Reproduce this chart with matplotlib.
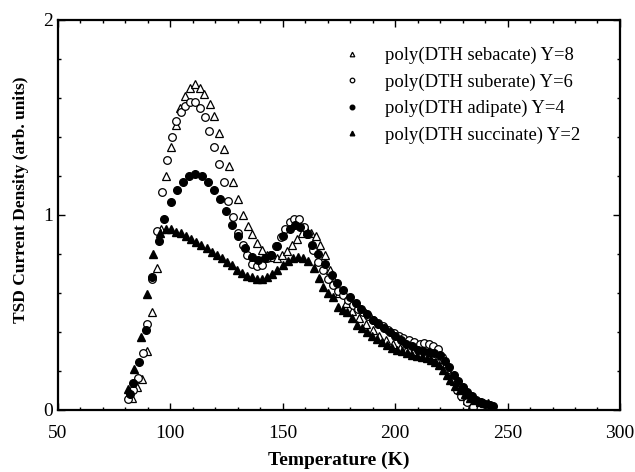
import matplotlib
matplotlib.use("Agg")
import matplotlib.pyplot as plt
from matplotlib.ticker import MultipleLocator

# poly(DTH sebacate) Y=8 -- open triangles
T_seb = [83, 85, 87.2, 89.5, 91.7, 93.9, 95.8, 98.0, 100.3, 102.4, 104.3, 106.5, 108.7,
         110.9, 113.2, 115.1, 117.5, 119.5, 121.6, 123.7, 125.9, 128.0, 130.2, 132.3,
         134.4, 136.4, 138.7, 140.7, 142.8, 145.1, 147.3, 149.5, 151.7, 154.0, 156.2,
         158.4, 160.6, 162.4, 164.6, 166.5, 168.8, 171, 173, 175, 178, 181, 184, 187,
         190, 193, 196, 199, 202, 205, 208, 211, 214, 217, 220, 222, 224, 226, 228,
         230, 232, 234]
y_seb = [0.06, 0.12, 0.16, 0.30, 0.50, 0.73, 0.93, 1.20, 1.35, 1.46, 1.55, 1.61, 1.65,
         1.67, 1.65, 1.62, 1.57, 1.51, 1.42, 1.34, 1.25, 1.17, 1.08, 1.00,
         0.945, 0.90, 0.855, 0.82, 0.795, 0.786, 0.78, 0.795, 0.817, 0.846, 0.875,
         0.905, 0.92, 0.91, 0.89, 0.846, 0.795, 0.72, 0.66, 0.60, 0.55, 0.51, 0.47, 0.44,
         0.41, 0.38, 0.36, 0.34, 0.32, 0.31, 0.30, 0.29, 0.285, 0.28, 0.26, 0.23, 0.19,
         0.15, 0.11, 0.07, 0.05, 0.03]

# poly(DTH suberate) Y=6 -- open circles
T_sub = [81.3, 83.5, 85.7, 87.7, 89.7, 92.0, 93.9, 96.1, 98.4, 100.6, 102.5, 104.6, 106.6,
         108.9, 111.1, 113.2, 115.3, 117.3, 119.4, 121.6, 123.7, 125.8, 127.8, 129.9,
         132.2, 134.2, 136.3, 138.4, 140.6, 142.8, 144.8, 147.0, 149.1, 151.1, 153.2,
         155.1, 157.3, 159.4, 161.3, 163.6, 165.8, 168.0, 170.2, 172.2, 174.5, 176.9,
         179.2, 181.4, 183.6, 185.8, 188, 190.3, 192.5, 194.7, 197, 199.3, 201.5, 203.7,
         206, 208.5, 211, 213, 215, 217, 219.2, 221, 222.9, 225.1, 227.3, 229.5, 231.8,
         234.7]
y_sub = [0.055, 0.10, 0.166, 0.29, 0.44, 0.67, 0.92, 1.12, 1.28, 1.40, 1.48, 1.53, 1.56,
         1.58, 1.58, 1.55, 1.50, 1.43, 1.35, 1.26, 1.17, 1.07, 0.99, 0.91,
         0.846, 0.795, 0.75, 0.74, 0.743, 0.78, 0.795, 0.84, 0.885, 0.93, 0.966,
         0.98, 0.977, 0.94, 0.90, 0.82, 0.76, 0.72, 0.67, 0.64, 0.61, 0.59,
         0.565, 0.54, 0.52, 0.50, 0.48, 0.46, 0.445, 0.43, 0.41, 0.395, 0.38, 0.37,
         0.36, 0.35, 0.34, 0.345, 0.34, 0.33, 0.315, 0.27, 0.205, 0.154, 0.10, 0.07, 0.043,
         0.017]

# poly(DTH adipate) Y=4 -- filled circles
T_adi = [82, 83.5, 86.2, 89.1, 91.7, 94.8, 97.3, 100.1, 102.8, 105.6, 108.3, 111.1, 113.9,
         116.6, 119.4, 122.1, 124.6, 127.4, 130.2, 133.2, 136.2, 139.1, 142.1, 144.8,
         147.5, 150.2, 153.2, 155.4, 157.7, 160.6, 163.1, 165.8, 168.8, 171.7, 174.0,
         176.9, 179.9, 182.5, 185, 187.5, 190, 192.5, 195, 197.5, 200, 202.5, 205, 207.5,
         210, 212.5, 215, 217.5, 220, 222, 224, 226, 228, 230, 232, 234, 236, 238, 240,
         242, 243.5]
y_adi = [0.08, 0.137, 0.245, 0.41, 0.68, 0.867, 0.98, 1.065, 1.13, 1.17, 1.20, 1.21, 1.20,
         1.17, 1.13, 1.08, 1.02, 0.95, 0.89, 0.83, 0.786, 0.77, 0.78, 0.795,
         0.84, 0.89, 0.93, 0.95, 0.94, 0.90, 0.846, 0.80, 0.75, 0.69, 0.65,
         0.615, 0.58, 0.55, 0.52, 0.49, 0.46, 0.44, 0.42, 0.40, 0.38, 0.36, 0.34, 0.33,
         0.31, 0.30, 0.295, 0.29, 0.28, 0.25, 0.22, 0.18, 0.15, 0.12, 0.09, 0.07, 0.05,
         0.04, 0.03, 0.025, 0.02]

# poly(DTH succinate) Y=2 -- filled triangles
T_suc = [81.3, 83.8, 86.8, 89.7, 92.3, 95.2, 98, 100.3, 102.5, 104.7, 106.8, 109.0, 111.4,
         113.6, 116.1, 118.4, 120.6, 122.8, 125.0, 127.3, 129.5, 131.7, 133.9, 136.2,
         138.4, 140.6, 142.8, 145.1, 147.3, 150.0, 152.4, 154.7, 156.9, 159.1, 161.3,
         163.7, 166.2, 168, 170.3, 172.5, 174.7, 176.6, 178.4, 180.7, 182.9, 185.1, 187.3,
         189.6, 191.8, 194, 196.2, 198.5, 200.7, 202.9, 205.1, 207.4, 209.6, 211.8, 214,
         216, 217.7, 219.5, 221.4, 222.9, 224.4, 226.6, 228.8, 231, 233.3, 235.5, 237.7,
         239.5, 241.4]
y_suc = [0.106, 0.21, 0.376, 0.595, 0.80, 0.905, 0.93, 0.926, 0.914, 0.906, 0.894, 0.875,
         0.863, 0.846, 0.83, 0.81, 0.795, 0.78, 0.76, 0.743, 0.72, 0.70, 0.687, 0.68,
         0.673, 0.673, 0.684, 0.697, 0.72, 0.743, 0.764, 0.78, 0.786, 0.78, 0.764,
         0.73, 0.675, 0.63, 0.60, 0.58, 0.53, 0.515, 0.50, 0.47, 0.436, 0.42, 0.40,
         0.38, 0.364, 0.35, 0.333, 0.32, 0.31, 0.30, 0.29, 0.283, 0.277, 0.27, 0.265,
         0.258, 0.248, 0.23, 0.205, 0.18, 0.154, 0.125, 0.10, 0.08, 0.06, 0.05, 0.043,
         0.038, 0.034]

labels = ["poly(DTH sebacate) Y=8", "poly(DTH suberate) Y=6",
          "poly(DTH adipate) Y=4", "poly(DTH succinate) Y=2"]

plt.rcParams["font.family"] = ["Liberation Serif", "DejaVu Serif"]

fig = plt.figure(figsize=(6.35, 4.72), dpi=100)
ax = fig.add_axes([0.0913, 0.1314, 0.885, 0.8263])

ax.plot(T_seb, y_seb, ls="none", marker="^", ms=5.5, mfc="white", mec="black", mew=0.9,
        label=labels[0])
ax.plot(T_sub, y_sub, ls="none", marker="o", ms=5.5, mfc="white", mec="black", mew=0.9,
        label=labels[1])
ax.plot(T_adi, y_adi, ls="none", marker="o", ms=5.5, mfc="black", mec="black",
        label=labels[2])
ax.plot(T_suc, y_suc, ls="none", marker="^", ms=5.5, mfc="black", mec="black",
        label=labels[3])

ax.set_xlim(50, 300)
ax.set_ylim(0, 2)
ax.xaxis.set_major_locator(MultipleLocator(50))
ax.xaxis.set_minor_locator(MultipleLocator(10))
ax.yaxis.set_major_locator(MultipleLocator(1))
ax.yaxis.set_minor_locator(MultipleLocator(0.2))
ax.tick_params(which="both", direction="in", top=True, right=True, labelsize=14, width=1)
ax.tick_params(which="major", length=5)
ax.tick_params(which="minor", length=2.5)
ax.tick_params(axis="x", which="major", pad=11)
for s in ax.spines.values():
    s.set_linewidth(1.6)

ax.set_xlabel("Temperature (K)", fontsize=14, fontweight="bold", va="top")
ax.xaxis.set_label_coords(0.5, -0.108)
ax.set_ylabel("TSD Current Density (arb. units)", fontsize=12.5, fontweight="bold")
ax.yaxis.set_label_coords(-0.052, 0.538)

ax.legend(loc="upper left", bbox_to_anchor=(0.468, 0.974), frameon=False, fontsize=13.4,
          markerscale=0.6, handlelength=1.5, labelspacing=0.5, handletextpad=1.05)

fig.savefig("out.png", dpi=100)
